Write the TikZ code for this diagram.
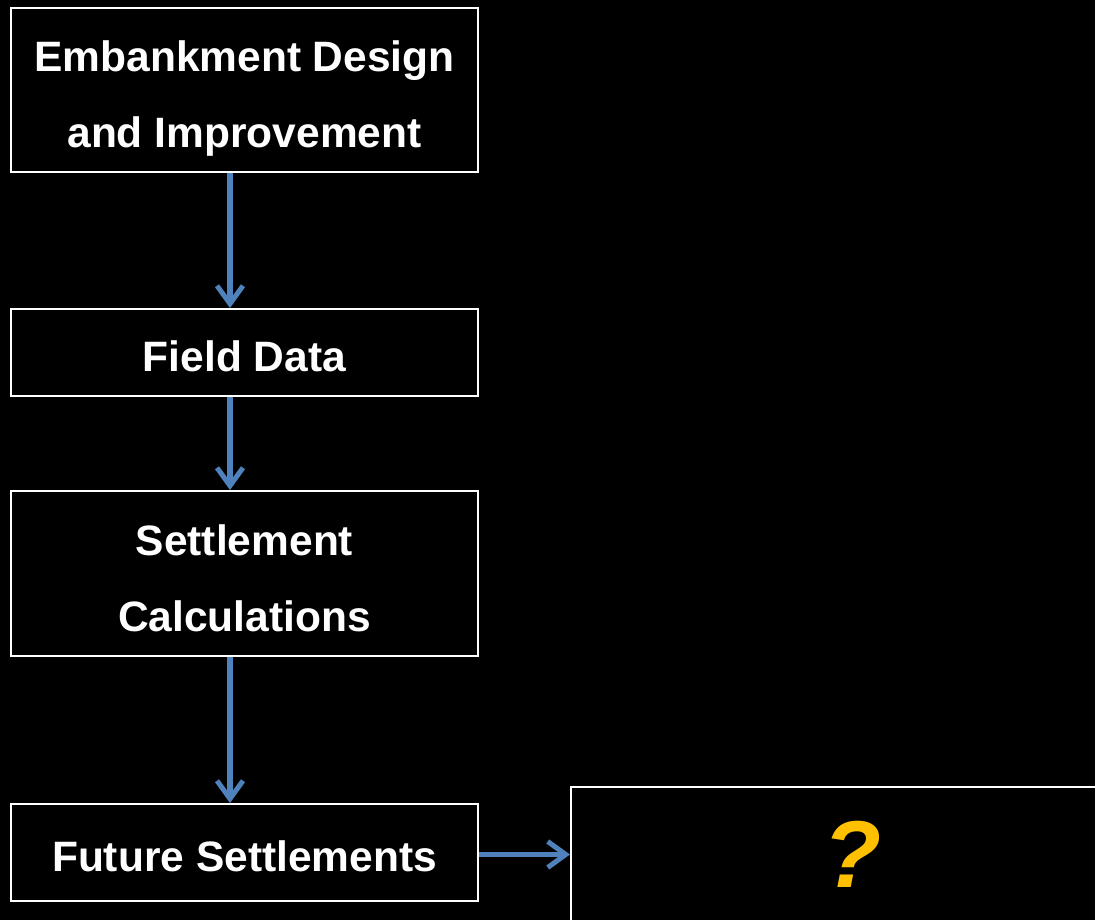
\documentclass[tikz,border=0pt]{standalone}
\usepackage{fontspec}
\setmainfont{Liberation Sans}
\usetikzlibrary{arrows.meta}
\definecolor{arrblue}{HTML}{4F81BD}
\definecolor{qgold}{HTML}{FFC000}
\begin{document}
\begin{tikzpicture}[x=1pt,y=-1pt,
  box/.style={draw=white, line width=2pt, fill=black, minimum width=467pt, inner sep=0pt},
  lbl/.style={text=white, align=center, inner sep=0pt,
    font=\fontsize{42.5}{76}\selectfont\bfseries},
  arr/.style={draw=arrblue, line width=5.5pt, -{Straight Barb[length=18pt,width=26pt,line width=5pt]}}]
\fill[black] (0,0) rectangle (1095,920);
\useasboundingbox (0,0) rectangle (1095,920);
\node[box, minimum height=164pt] (a) at (244.5,90) {};
\node[box, minimum height=87pt] (b) at (244.5,352.5) {};
\node[box, minimum height=165pt] (c) at (244.5,573.5) {};
\node[box, minimum height=97pt] (d) at (244.5,852.5) {};
\node[lbl] (ta) at ([yshift=-9pt]a.center) {Embankment Design\\and Improvement};
\node[lbl] (tb) at ([yshift=-4pt]b.center) {Field Data};
\node[lbl] (tc) at ([yshift=-5pt]c.center) {Settlement\\Calculations};
\node[lbl] (td) at ([yshift=-4pt]d.center) {Future Settlements};
\begin{scope}
\clip (0,0) rectangle (1095,920);
\node[draw=white, line width=2pt, minimum width=564pt, minimum height=140pt, inner sep=0pt] (e) at (853,857) {};
\end{scope}
\node[text=qgold, inner sep=0pt, font=\fontsize{95}{95}\selectfont\bfseries\itshape] (q) at (853,854) {?};
\draw[arr] ([xshift=-14.5pt]a.south) -- ([xshift=-14.5pt]b.north);
\draw[arr] ([xshift=-14.5pt]b.south) -- ([xshift=-14.5pt]c.north);
\draw[arr] ([xshift=-14.5pt]c.south) -- ([xshift=-14.5pt]d.north);
\draw[arr] ([yshift=-2pt]d.east) -- ([yshift=-2pt]d.east -| e.west);
\end{tikzpicture}
\end{document}
